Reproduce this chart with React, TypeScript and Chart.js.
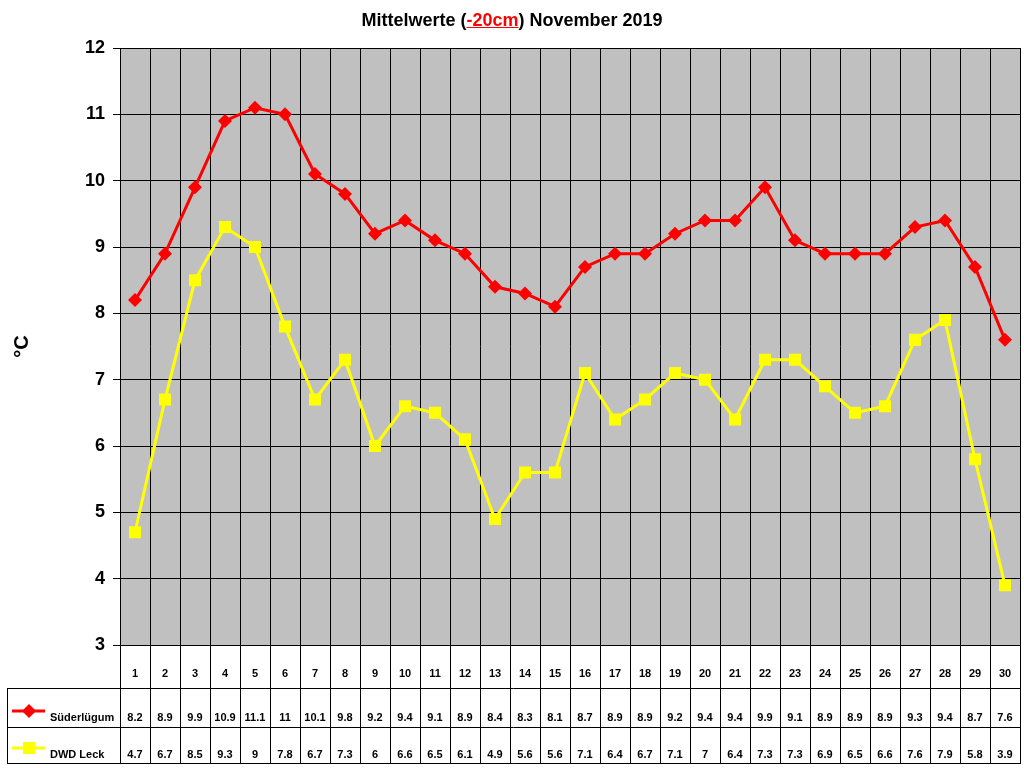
import { useEffect, useRef } from 'react';
import { Chart, registerables } from 'chart.js';
import type { Plugin } from 'chart.js';

Chart.register(...registerables);

const days = [
  '1', '2', '3', '4', '5', '6', '7', '8', '9', '10',
  '11', '12', '13', '14', '15', '16', '17', '18', '19', '20',
  '21', '22', '23', '24', '25', '26', '27', '28', '29', '30'
];

const suederluegum = [
  8.2, 8.9, 9.9, 10.9, 11.1, 11, 10.1, 9.8, 9.2, 9.4,
  9.1, 8.9, 8.4, 8.3, 8.1, 8.7, 8.9, 8.9, 9.2, 9.4,
  9.4, 9.9, 9.1, 8.9, 8.9, 8.9, 9.3, 9.4, 8.7, 7.6
];

const dwdLeck = [
  4.7, 6.7, 8.5, 9.3, 9, 7.8, 6.7, 7.3, 6, 6.6,
  6.5, 6.1, 4.9, 5.6, 5.6, 7.1, 6.4, 6.7, 7.1, 7,
  6.4, 7.3, 7.3, 6.9, 6.5, 6.6, 7.6, 7.9, 5.8, 3.9
];

const seriesNames = ['Süderlügum', 'DWD Leck'];
const seriesColors = ['#FF0000', '#FFFF00'];

const FONT = 'Arial, "Liberation Sans", sans-serif';

// grey plot background + top border
const plotBackground: Plugin<'line'> = {
  id: 'plotBackground',
  beforeDraw(chart) {
    const { ctx, chartArea } = chart;
    ctx.save();
    ctx.fillStyle = '#C0C0C0';
    ctx.fillRect(chartArea.left, chartArea.top, chartArea.right - chartArea.left, chartArea.bottom - chartArea.top);
    ctx.strokeStyle = '#808080';
    ctx.lineWidth = 1;
    ctx.beginPath();
    ctx.moveTo(chartArea.left, chartArea.top + 0.5);
    ctx.lineTo(chartArea.right, chartArea.top + 0.5);
    ctx.stroke();
    ctx.restore();
  }
};

// Excel-style data table under the plot
const dataTable: Plugin<'line'> = {
  id: 'dataTable',
  afterDraw(chart) {
    const { ctx, chartArea } = chart;
    const xs = chart.scales.x;
    const n = days.length;
    const left = chartArea.left;
    const right = chartArea.right;
    const colW = (right - left) / n;
    const top = chartArea.bottom;
    const headBottom = top + 43;
    const row1Bottom = top + 82;
    const row2Bottom = top + 118;
    const tableLeft = 7;

    ctx.save();
    ctx.strokeStyle = '#000';
    ctx.lineWidth = 1;
    ctx.beginPath();
    ctx.moveTo(left, top + 0.5); ctx.lineTo(right, top + 0.5);
    [headBottom, row1Bottom, row2Bottom].forEach(y => {
      ctx.moveTo(tableLeft, y + 0.5); ctx.lineTo(right, y + 0.5);
    });
    for (let i = 0; i <= n; i++) {
      const x = Math.round(left + i * colW) + 0.5;
      ctx.moveTo(x, top); ctx.lineTo(x, row2Bottom + 1);
    }
    ctx.moveTo(tableLeft + 0.5, headBottom); ctx.lineTo(tableLeft + 0.5, row2Bottom + 1);
    ctx.stroke();

    ctx.fillStyle = '#000';
    ctx.font = 'bold 11px ' + FONT;
    ctx.textAlign = 'center';
    ctx.textBaseline = 'middle';
    const rows = [suederluegum, dwdLeck];
    days.forEach((d, i) => {
      const cx = xs.getPixelForValue(i);
      ctx.fillText(d, cx, top + 29);
      ctx.fillText(String(rows[0][i]), cx, row1Bottom - 9);
      ctx.fillText(String(rows[1][i]), cx, row2Bottom - 8);
    });

    // legend keys
    const keyY = [row1Bottom - 16, row2Bottom - 15];
    const textY = [row1Bottom - 9, row2Bottom - 8];
    seriesNames.forEach((name, k) => {
      ctx.strokeStyle = seriesColors[k];
      ctx.fillStyle = seriesColors[k];
      ctx.lineWidth = 3;
      ctx.beginPath();
      ctx.moveTo(12, keyY[k]); ctx.lineTo(45, keyY[k]);
      ctx.stroke();
      const mx = 29;
      const my = keyY[k];
      ctx.beginPath();
      if (k === 0) {
        ctx.moveTo(mx, my - 7); ctx.lineTo(mx + 7, my); ctx.lineTo(mx, my + 7); ctx.lineTo(mx - 7, my);
      } else {
        ctx.rect(mx - 6, my - 6, 12, 12);
      }
      ctx.closePath();
      ctx.fill();
      ctx.fillStyle = '#000';
      ctx.textAlign = 'left';
      ctx.fillText(name, 50, textY[k]);
    });
    ctx.restore();
  }
};

export default function App() {
  const canvasRef = useRef<HTMLCanvasElement>(null);

  useEffect(() => {
    document.body.style.margin = '0';
    if (!canvasRef.current) return;
    const chart = new Chart(canvasRef.current, {
      type: 'line',
      data: {
        labels: days,
        datasets: [
          {
            label: seriesNames[1],
            data: dwdLeck,
            borderColor: seriesColors[1],
            backgroundColor: seriesColors[1],
            borderWidth: 3,
            pointStyle: 'rect',
            pointRadius: 8.5,
            pointBorderWidth: 0,
            tension: 0
          },
          {
            label: seriesNames[0],
            data: suederluegum,
            borderColor: seriesColors[0],
            backgroundColor: seriesColors[0],
            borderWidth: 3,
            pointStyle: 'rectRot',
            pointRadius: 7,
            pointBorderWidth: 0,
            tension: 0
          }
        ]
      },
      options: {
        responsive: false,
        devicePixelRatio: 1,
        animation: false,
        layout: { autoPadding: false, padding: { left: 0, top: 48, right: 4, bottom: 0 } },
        plugins: {
          legend: { display: false },
          title: { display: false },
          tooltip: { enabled: false }
        },
        scales: {
          x: {
            offset: true,
            grid: { offset: true, color: '#000', drawTicks: false },
            border: { display: true, color: '#000' },
            ticks: { display: false },
            afterFit: (s: any) => { s.height = 123; }
          },
          y: {
            min: 3,
            max: 12,
            ticks: {
              stepSize: 1,
              color: '#000',
              padding: 8,
              font: { family: FONT, size: 18, weight: 'bold' }
            },
            grid: { color: '#000', tickLength: 7 },
            border: { display: true, color: '#000' },
            title: {
              display: true,
              text: '°C',
              color: '#000',
              padding: { top: 10, bottom: 4 },
              font: { family: FONT, size: 20, weight: 'bold' }
            },
            afterFit: (s: any) => { s.width = 120; }
          }
        }
      },
      plugins: [plotBackground, dataTable]
    });
    return () => chart.destroy();
  }, []);

  return (
    <div style={{ position: 'fixed', left: 0, top: 0, width: 1024, height: 768, background: '#fff' }}>
      <div style={{
        position: 'absolute', top: 10, left: 0, width: 1024, textAlign: 'center',
        fontFamily: FONT, fontWeight: 'bold', fontSize: 18, color: '#000'
      }}>
        Mittelwerte (<span style={{ color: '#FF0000', textDecoration: 'underline' }}>-20cm</span>) November 2019
      </div>
      <canvas ref={canvasRef} width={1024} height={768} style={{ display: 'block' }} />
    </div>
  );
}
